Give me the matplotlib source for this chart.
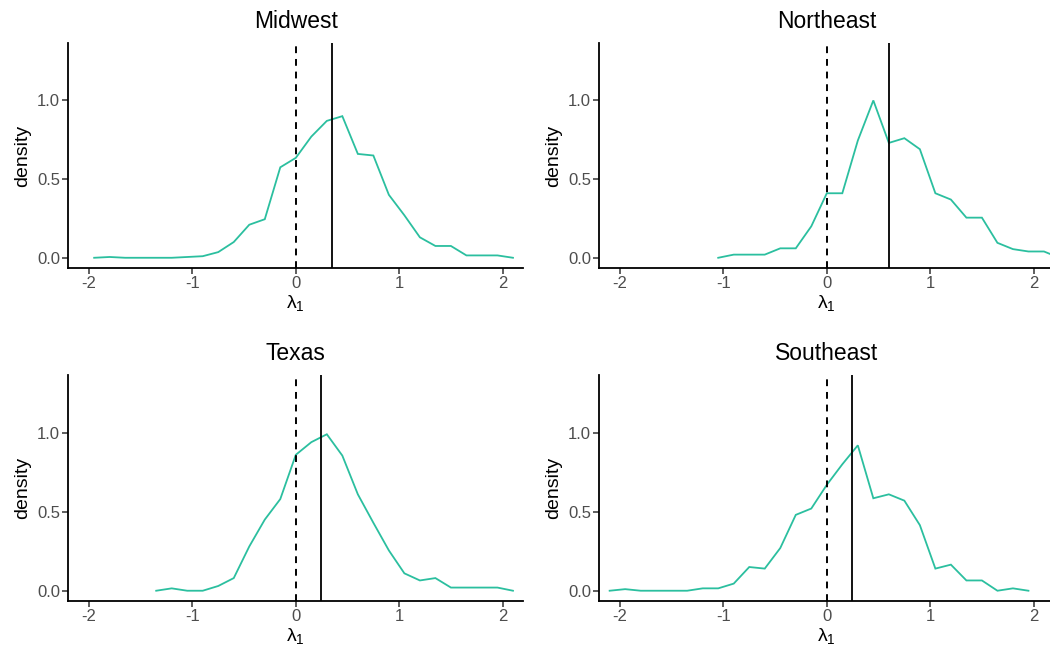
import matplotlib
matplotlib.use("Agg")
import matplotlib.pyplot as plt

plt.rcParams["font.family"] = ["Liberation Sans", "DejaVu Sans"]
plt.rcParams["mathtext.fontset"] = "custom"
plt.rcParams["mathtext.rm"] = "Liberation Sans"
plt.rcParams["mathtext.default"] = "regular"
plt.rcParams["axes.unicode_minus"] = False

# frequency-polygon points, bin step 0.15
mw_x = [-1.95, -1.80, -1.65, -1.50, -1.35, -1.20, -1.05, -0.90, -0.75, -0.60,
        -0.45, -0.30, -0.15, 0.00, 0.15, 0.30, 0.45, 0.60, 0.75, 0.90,
        1.05, 1.20, 1.35, 1.50, 1.65, 1.80, 1.95, 2.10]
mw_y = [0.0, 0.005, 0.0, 0.0, 0.0, 0.0, 0.005, 0.01, 0.036, 0.10,
        0.21, 0.245, 0.575, 0.635, 0.77, 0.87, 0.90, 0.66, 0.65, 0.40,
        0.27, 0.13, 0.075, 0.075, 0.015, 0.015, 0.015, 0.0]

ne_x = [-1.05, -0.90, -0.75, -0.60, -0.45, -0.30, -0.15, 0.00, 0.15, 0.30,
        0.45, 0.60, 0.75, 0.90, 1.05, 1.20, 1.35, 1.50, 1.65, 1.80,
        1.95, 2.10, 2.25]
ne_y = [0.0, 0.02, 0.02, 0.02, 0.06, 0.06, 0.20, 0.41, 0.41, 0.745,
        1.0, 0.73, 0.76, 0.69, 0.41, 0.37, 0.255, 0.255, 0.095, 0.055,
        0.04, 0.04, 0.0]

tx_x = [-1.35, -1.20, -1.05, -0.90, -0.75, -0.60, -0.45, -0.30, -0.15, 0.00,
        0.15, 0.30, 0.45, 0.60, 0.75, 0.90, 1.05, 1.20, 1.35, 1.50,
        1.65, 1.80, 1.95, 2.10]
tx_y = [0.0, 0.015, 0.0, 0.0, 0.03, 0.08, 0.28, 0.45, 0.58, 0.86,
        0.94, 0.99, 0.855, 0.61, 0.43, 0.255, 0.11, 0.065, 0.08, 0.02,
        0.02, 0.02, 0.02, 0.0]

se_x = [-2.10, -1.95, -1.80, -1.65, -1.50, -1.35, -1.20, -1.05, -0.90, -0.75,
        -0.60, -0.45, -0.30, -0.15, 0.00, 0.15, 0.30, 0.45, 0.60, 0.75,
        0.90, 1.05, 1.20, 1.35, 1.50, 1.65, 1.80, 1.95]
se_y = [0.0, 0.01, 0.0, 0.0, 0.0, 0.0, 0.015, 0.015, 0.045, 0.15,
        0.14, 0.27, 0.48, 0.52, 0.67, 0.80, 0.92, 0.585, 0.61, 0.57,
        0.415, 0.14, 0.165, 0.065, 0.065, 0.0, 0.015, 0.0]

titles = ["Midwest", "Northeast", "Texas", "Southeast"]
means = [0.35, 0.60, 0.24, 0.24]
series = [(mw_x, mw_y), (ne_x, ne_y), (tx_x, tx_y), (se_x, se_y)]

TEAL = "#2bbf9f"
GREY = "#4d4d4d"

fig = plt.figure(figsize=(10.5, 6.49), dpi=100)
W, H = 1050, 649
# axes boxes in pixels: left, top, width, height (right column runs past the edge, as cropped in the original)
boxes = [(68.3, 43, 455, 225), (599.3, 43, 455, 225),
         (68.3, 375, 455, 226), (599.3, 375, 455, 226)]

for (l, t, w, h), title, m, (xs, ys) in zip(boxes, titles, means, series):
    ax = fig.add_axes([l / W, (H - t - h) / H, w / W, h / H])
    ax.plot(xs, ys, color=TEAL, lw=1.3, solid_joinstyle="miter", clip_on=False)
    ax.axvline(0, color="black", lw=1.4, ls=(0, (3.5, 3)))
    ax.axvline(m, color="black", lw=1.3)
    ax.set_xlim(-2.2, 2.2)
    ax.set_ylim(-0.065, 1.365)
    ax.set_xticks([-2, -1, 0, 1, 2])
    ax.set_yticks([0.0, 0.5, 1.0])
    ax.set_yticklabels(["0.0", "0.5", "1.0"])
    for side in ["top", "right"]:
        ax.spines[side].set_visible(False)
    for side in ["left", "bottom"]:
        ax.spines[side].set_linewidth(1.3)
        ax.spines[side].set_color("black")
    ax.tick_params(length=4, width=1.1, color="#333333", labelsize=12,
                   labelcolor=GREY, pad=2)
    ax.set_title(title, fontsize=16.5, pad=11)
    ax.set_ylabel("density", fontsize=14, labelpad=4)
    ax.set_xlabel("λ$_1$", fontsize=14, labelpad=1)

fig.savefig("out.png", dpi=100)
